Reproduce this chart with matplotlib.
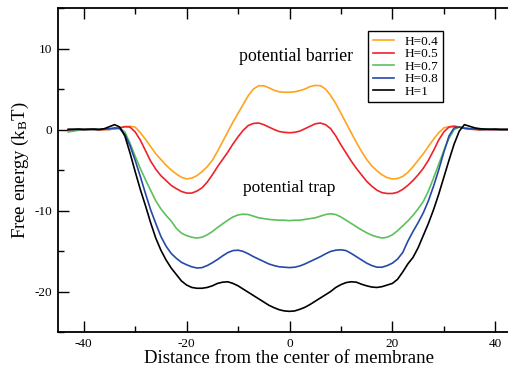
import numpy as np
import matplotlib
matplotlib.use('Agg')
import matplotlib.pyplot as plt
from matplotlib.ticker import MultipleLocator

plt.rcParams['font.family'] = ['Liberation Serif', 'DejaVu Serif']
plt.rcParams['mathtext.fontset'] = 'custom'
plt.rcParams['mathtext.rm'] = 'Liberation Serif'
plt.rcParams['mathtext.it'] = 'Liberation Serif:italic'
plt.rcParams['axes.unicode_minus'] = False

# distance from membrane centre, one point per unit
x = np.arange(-43, 46)

# free energy (kBT) for each H
h04 = [0.0, 0.0, 0.05, 0.0, 0.0, 0.05, 0.0, 0.0, 0.05, 0.1, 0.2,
       0.35, 0.4, 0.3, -0.4, -1.2, -2.1, -3.0, -3.7, -4.4, -5.0, -5.5,
       -5.9, -6.1, -6.0, -5.7, -5.2, -4.6, -3.8, -2.7, -1.5, -0.3,
       0.9, 2.0, 3.1, 4.2, 5.0, 5.4, 5.4, 5.15, 4.85, 4.65, 4.6, 4.6, 4.65,
       4.8, 5.0, 5.3, 5.45, 5.4, 5.0, 4.2, 3.2, 2.0, 0.8, -0.4, -1.6,
       -2.7, -3.7, -4.5, -5.1, -5.6, -5.95, -6.1, -6.05, -5.8, -5.3, -4.6,
       -3.8, -3.0, -2.1, -1.2, -0.4, 0.2, 0.35, 0.4, 0.3, 0.15, 0.1,
       0.05, 0.05, 0.0, 0.0, 0.05, 0.0, 0.0, 0.0, 0.0, 0.0]
h05 = [0.0, -0.05, 0.0, 0.0, 0.05, 0.0, -0.05, 0.0, 0.0, 0.1, 0.2,
       0.35, 0.3, -0.3, -1.3, -2.6, -3.9, -4.9, -5.7, -6.3, -6.9, -7.3,
       -7.65, -7.85, -7.85, -7.6, -7.2, -6.5, -5.6, -4.6, -3.7, -2.8,
       -1.8, -0.9, -0.1, 0.5, 0.75, 0.8, 0.6, 0.3, 0.0, -0.25, -0.35, -0.4,
       -0.35, -0.2, 0.1, 0.4, 0.7, 0.8, 0.6, 0.1, -0.8, -1.9, -2.9, -3.9,
       -4.8, -5.6, -6.4, -7.0, -7.5, -7.8, -7.9, -7.9, -7.75, -7.4, -6.9,
       -6.3, -5.6, -4.8, -3.8, -2.6, -1.3, -0.3, 0.3, 0.4, 0.3, 0.15, 0.05,
       0.0, -0.05, 0.0, 0.0, -0.05, 0.0, 0.0, 0.0, 0.0, 0.0]
h07 = [-0.3, -0.2, -0.1, 0.0, 0.0, 0.0, 0.0, 0.05, 0.0, 0.1, 0.2,
       -0.3, -1.7, -3.3, -4.8, -6.2, -7.5, -8.8, -9.8, -10.6, -11.3, -12.2,
       -12.8, -13.1, -13.3, -13.4, -13.3, -13.0, -12.6, -12.1, -11.65, -11.2,
       -10.8, -10.55, -10.45, -10.5, -10.7, -10.9, -11.0, -11.1, -11.15,
       -11.2, -11.2, -11.25, -11.2, -11.2, -11.1, -11.0, -10.9, -10.7,
       -10.5, -10.4, -10.5, -10.8, -11.2, -11.6, -12.0, -12.4, -12.75,
       -13.05, -13.25, -13.4, -13.3, -13.0, -12.5, -11.9, -11.3, -10.6,
       -9.8, -8.9, -7.6, -6.0, -4.3, -2.6, -1.1, 0.0, 0.3, 0.15, 0.1, 0.05,
       0.0, 0.0, 0.05, 0.0, 0.0, 0.0, 0.0, 0.0, 0.0]
h08 = [0.0, 0.05, 0.0, 0.0, 0.05, 0.0, 0.0, 0.05, 0.1, 0.2, 0.1,
       -0.6, -2.0, -3.8, -5.8, -7.9, -9.9, -11.6, -13.2, -14.4, -15.3, -15.9,
       -16.4, -16.7, -16.95, -17.1, -17.05, -16.8, -16.45, -16.05, -15.6,
       -15.2, -14.95, -14.9, -15.05, -15.35, -15.7, -16.0, -16.3, -16.6,
       -16.8, -16.95, -17.0, -17.05, -17.0, -16.85, -16.6, -16.3, -16.0,
       -15.7, -15.35, -15.05, -14.9, -14.85, -14.95, -15.3, -15.7, -16.1,
       -16.5, -16.8, -17.0, -17.0, -16.8, -16.5, -16.0, -15.2, -13.8,
       -12.6, -11.5, -10.3, -8.8, -7.0, -5.0, -2.8, -0.8, 0.2, 0.3, 0.15,
       0.1, 0.05, 0.0, 0.0, 0.05, 0.0, 0.0, 0.0, 0.0, 0.0, 0.0]
h10 = [0.0, 0.0, 0.05, 0.0, 0.0, 0.05, 0.0, 0.1, 0.35, 0.6, 0.3,
       -0.8, -2.9, -5.2, -7.4, -9.4, -11.5, -13.4, -14.9, -16.1, -17.1,
       -17.9, -18.7, -19.2, -19.5, -19.6, -19.6, -19.5, -19.3, -19.0,
       -18.85, -18.8, -19.0, -19.3, -19.7, -20.1, -20.5, -20.9, -21.3,
       -21.7, -22.0, -22.25, -22.4, -22.45, -22.4, -22.2, -21.95, -21.6,
       -21.2, -20.8, -20.4, -20.0, -19.5, -19.15, -18.9, -18.8, -18.85,
       -19.1, -19.3, -19.45, -19.5, -19.4, -19.2, -19.0, -18.5, -17.6,
       -16.6, -15.8, -14.6, -13.1, -11.6, -9.9, -8.0, -5.9, -3.8, -1.8,
       -0.2, 0.6, 0.4, 0.2, 0.1, 0.05, 0.0, 0.05, 0.0, 0.0, 0.0, 0.0, 0.0]

labels = ['H=0.4', 'H=0.5', 'H=0.7', 'H=0.8', 'H=1']
colors = ['#FFA41C', '#EE2229', '#5CC05C', '#2549A8', '#000000']

fig = plt.figure(figsize=(5.08, 3.66), dpi=100)
# right spine sits just outside the picture, as in the original
ax = fig.add_axes([58/508, 34/366, 463/508, 324/366])

for y, lab, c in zip([h04, h05, h07, h08, h10], labels, colors):
    ax.plot(x, y, color=c, lw=1.2, label=lab)

ax.set_xlim(-45, 45)
ax.set_ylim(-25, 15)
ax.xaxis.set_major_locator(MultipleLocator(20))
ax.xaxis.set_minor_locator(MultipleLocator(10))
ax.yaxis.set_major_locator(MultipleLocator(10))
ax.yaxis.set_minor_locator(MultipleLocator(5))
ax.tick_params(which='both', direction='in', top=True, right=True,
               width=1.0, labelsize=9.5, pad=4)
ax.tick_params(which='major', length=8)
ax.tick_params(which='minor', length=4.5)
for s in ax.spines.values():
    s.set_linewidth(1.3)

ax.set_xlabel('Distance from the center of membrane', fontsize=13.5, labelpad=0)
ax.set_ylabel('Free energy (k$_\\mathrm{B}$T)', fontsize=13.5, labelpad=3)

ax.text(1.2, 9.0, 'potential barrier', fontsize=12.8, ha='center', va='center')
ax.text(0.0, -7.2, 'potential trap', fontsize=12.5, ha='center', va='center')

leg = ax.legend(loc='upper right', bbox_to_anchor=(443/508, 1 - 31/366),
                bbox_transform=fig.transFigure, borderaxespad=0,
                fontsize=9.5, fancybox=False, framealpha=1, edgecolor='black',
                handlelength=1.6, handletextpad=0.8, labelspacing=0.02,
                borderpad=0.35)
leg.get_frame().set_linewidth(1.0)

fig.savefig('out.png', dpi=100)
